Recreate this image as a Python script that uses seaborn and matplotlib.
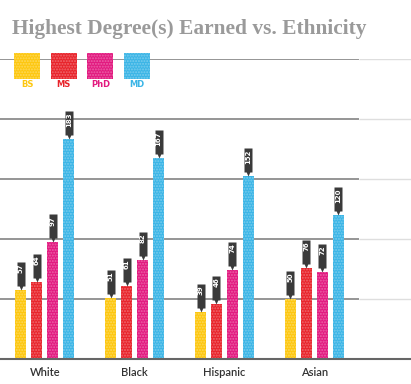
import numpy as np
import pandas as pd
import seaborn as sns
import matplotlib.pyplot as plt
from matplotlib.path import Path
from matplotlib.patches import Rectangle
from matplotlib.transforms import offset_copy

# data
ethnicities = ["White", "Black", "Hispanic", "Asian"]
degrees = ["BS", "MS", "PhD", "MD"]
bs = [57, 51, 39, 50]
ms = [64, 61, 46, 76]
phd = [97, 82, 74, 72]
md = [183, 167, 152, 120]
colors = ["#FDC70F", "#E8232A", "#E2197F", "#3BB5E6"]
grid_ticks = [50, 100, 150, 200, 250]
title = "Highest Degree(s) Earned vs. Ethnicity"

df = pd.DataFrame({
    "ethnicity": ethnicities * 4,
    "degree": np.repeat(degrees, 4),
    "count": bs + ms + phd + md,
})

sns.set_style("white")
W, H = 411, 384
fig = plt.figure(figsize=(W / 100, H / 100), dpi=100)
ax = fig.add_axes([0, 25.3 / H, 1, 300 / H])

sns.barplot(data=df, x="ethnicity", y="count", hue="degree", order=ethnicities,
            hue_order=degrees, palette=colors, saturation=1, width=0.71, gap=0.31,
            linewidth=0, legend=False, ax=ax, zorder=1)
for p in ax.patches:
    p.set_hatch("......")
    p.set_edgecolor((1, 1, 1, 0.3))
    p.set_linewidth(0)

xmax = 3.5 + 52 / 90
ax.set_xlim(-0.5, xmax)
ax.set_ylim(0, 250)
for s in ax.spines.values():
    s.set_visible(False)
ax.set_xlabel("")
ax.set_ylabel("")

ax.hlines(grid_ticks, -0.5, 3.5, color="#8c8c8c", lw=1.3, zorder=0.5)
ax.hlines(grid_ticks, 3.5, xmax, color="#dedede", lw=1.0, zorder=0.5)
ax.hlines(0, -0.5, xmax, color="#666666", lw=1.5, zorder=2, clip_on=False)

ax.set_yticks([0] + grid_ticks)
ax.tick_params(axis="y", direction="in", length=8, width=1.3, color="#555555",
               labelleft=False)
ax.set_xticks(range(len(ethnicities)))
ax.set_xticklabels(ethnicities, fontsize=8, color="#333333", family="Lato",
                   fontweight="semibold")
ax.tick_params(axis="x", which="major", length=0, pad=6)
ax.set_xticks([0.5, 1.5, 2.5, 3.5], minor=True)
ax.tick_params(axis="x", which="minor", direction="in", length=8, width=1,
               color="#555555")

# pin-shaped value labels
pin = Path([(0, 0), (1.8, 4), (4, 4), (4, 28), (-4, 28), (-4, 4), (-1.8, 4), (0, 0)],
           closed=True)
text_tr = offset_copy(ax.transData, fig=fig, y=26.5, units="dots")
for cont in ax.containers:
    for bar in cont:
        x = bar.get_x() + bar.get_width() / 2
        h = bar.get_height()
        ax.plot(x, h, marker=pin, ms=2 * 28 * 0.72, color="#3a3a3a", mew=0,
                clip_on=False, zorder=3)
        ax.text(x, h, f"{h:.0f}", transform=text_tr, rotation=90, ha="center",
                va="top", fontsize=5, fontweight="bold", color="white", zorder=4)

# legend squares with labels underneath
for i, (deg, col) in enumerate(zip(degrees, colors)):
    x0 = 14 + i * 36.7
    sq = Rectangle((x0 / W, 1 - 79 / H), 26 / W, 26 / H, transform=fig.transFigure,
                   facecolor=col, edgecolor=(1, 1, 1, 0.3), linewidth=0,
                   hatch="......", zorder=5)
    fig.add_artist(sq)
    fig.text((x0 + 13) / W, 1 - 84.5 / H, deg, ha="center", va="center",
             color=col, fontsize=6, fontweight="bold")

fig.text(12 / W, 1 - 29 / H, title, ha="left", va="center", fontsize=15.4,
         fontweight="bold", family="Liberation Serif", color="#9a9a9a")

fig.savefig("out.png", dpi=100)
